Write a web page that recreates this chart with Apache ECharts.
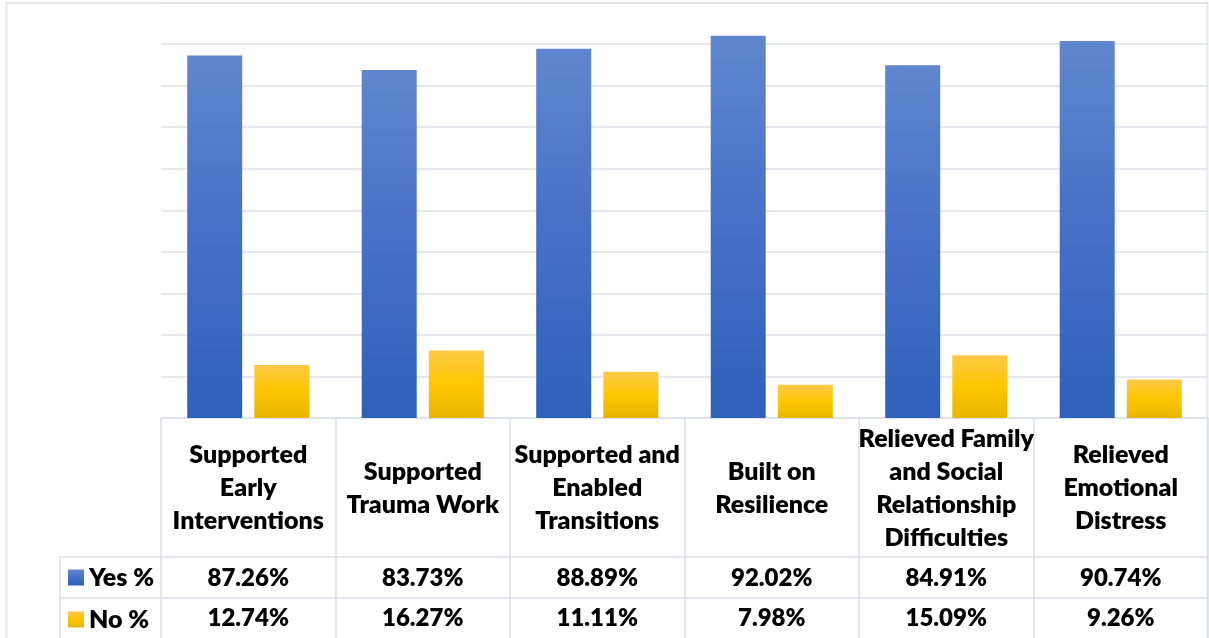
<!DOCTYPE html>
<html>
<head>
<meta charset="utf-8">
<script src="https://cdn.jsdelivr.net/npm/echarts@6/dist/echarts.min.js"></script>
<style>html,body{margin:0;padding:0;background:#fff;}#c{width:1209px;height:638px;}</style>
</head>
<body>
<div id="c"></div>
<script>
var categories = [
  'Supported\nEarly\nInterventions',
  'Supported\nTrauma Work',
  'Supported and\nEnabled\nTransitions',
  'Built on\nResilience',
  'Relieved Family\nand Social\nRelationship\nDifficulties',
  'Relieved\nEmotional\nDistress'
];
var yesValues = [87.26, 83.73, 88.89, 92.02, 84.91, 90.74];
var noValues = [12.74, 16.27, 11.11, 7.98, 15.09, 9.26];
var seriesNames = ['Yes %', 'No %'];

var lineColor = '#DCE0E7';
var font = 'Lato';
var weight = 800;
var chart = echarts.init(document.getElementById('c'));

function grad(c0, c1, c2) {
  return new echarts.graphic.LinearGradient(0, 0, 0, 1, [
    {offset: 0, color: c0}, {offset: 0.5, color: c1}, {offset: 1, color: c2}
  ]);
}

chart.setOption({
  animation: false,
  backgroundColor: '#fff',
  grid: {left: 161, right: 1, top: 2.5, bottom: 220, containLabel: false},
  legend: {
    orient: 'vertical', left: 68, top: 565, itemWidth: 16, itemHeight: 16, itemGap: 17,
    padding: 0, height: 80,
    icon: 'rect',
    textStyle: {fontFamily: font, fontWeight: weight, fontSize: 25, color: '#000', lineHeight: 24},
    data: seriesNames
  },
  xAxis: [
    {
      type: 'category', data: categories, position: 'bottom',
      axisLine: {show: true, lineStyle: {color: lineColor, width: 1.5}},
      axisTick: {show: true, interval: 0, length: 240, lineStyle: {color: lineColor, width: 1.5}},
      axisLabel: {interval: 0, margin: 70, verticalAlign: 'middle', lineHeight: 33,
        fontFamily: font, fontWeight: weight, fontSize: 25, color: '#000'}
    },
    {
      type: 'category', data: categories, position: 'bottom', offset: 139,
      axisLine: {show: true, lineStyle: {color: lineColor, width: 1.5}},
      axisTick: {show: false},
      axisLabel: {interval: 0, margin: 21, verticalAlign: 'middle', lineHeight: 24,
        fontFamily: font, fontWeight: weight, fontSize: 24, color: '#000',
        formatter: function (v, i) { return yesValues[i].toFixed(2) + '%'; }}
    },
    {
      type: 'category', data: categories, position: 'bottom', offset: 180,
      axisLine: {show: true, lineStyle: {color: lineColor, width: 1.5}},
      axisTick: {show: false},
      axisLabel: {interval: 0, margin: 20, verticalAlign: 'middle', lineHeight: 24,
        fontFamily: font, fontWeight: weight, fontSize: 24, color: '#000',
        formatter: function (v, i) { return noValues[i].toFixed(2) + '%'; }}
    }
  ],
  yAxis: {
    type: 'value', min: 0, max: 100, interval: 10,
    axisLabel: {show: false}, axisLine: {show: false}, axisTick: {show: false},
    splitLine: {show: true, lineStyle: {color: lineColor, width: 1.5}}
  },
  series: [
    {
      name: seriesNames[0], type: 'bar', xAxisIndex: 0, data: yesValues,
      barWidth: 55, barGap: '22%',
      itemStyle: {color: grad('#6086CE', '#4670C6', '#2F60BA')}
    },
    {
      name: seriesNames[1], type: 'bar', xAxisIndex: 0, data: noValues,
      barWidth: 55, barGap: '22%',
      itemStyle: {color: grad('#FFC947', '#FFC600', '#E8B500')}
    }
  ],
  graphic: [
    {type: 'rect', shape: {x: 6.5, y: 3, width: 1201, height: 700}, silent: true,
      style: {fill: null, stroke: '#E6E8EC', lineWidth: 2}},
    {type: 'polyline', shape: {points: [[161, 557], [60, 557], [60, 660]]}, silent: true,
      style: {fill: null, stroke: lineColor, lineWidth: 1.5}},
    {type: 'line', shape: {x1: 60, y1: 598, x2: 161, y2: 598}, silent: true,
      style: {stroke: lineColor, lineWidth: 1.5}}
  ]
});
</script>
</body>
</html>
